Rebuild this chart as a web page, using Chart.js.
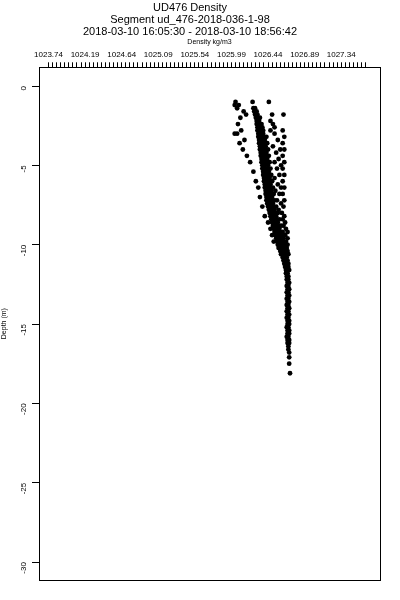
<!DOCTYPE html>
<html><head><meta charset="utf-8">
<script src="https://cdn.jsdelivr.net/npm/chart.js@4"></script>
<style>html,body{margin:0;padding:0;background:#fff}</style>
</head><body>
<canvas id="c" width="400" height="600"></canvas>
<script>
const titleLines = ['UD476 Density', 'Segment ud_476-2018-036-1-98', '2018-03-10 16:05:30 - 2018-03-10 18:56:42'];
const xAxisTitle = 'Density kg/m3';
const yAxisTitle = 'Depth (m)';
const xTickLabels = ['1023.74','1024.19','1024.64','1025.09','1025.54','1025.99','1026.44','1026.89','1027.34'];
const xMinorStep = 0.05;
const xMinorCount = 79;
const yTickValues = [0, -5, -10, -15, -20, -25, -30];

const depthLevels = [
 -1.0,-1.2,-1.4,-1.6,-1.8,-2.0,-2.2,-2.4,-2.6,-2.8,
 -3.0,-3.2,-3.4,-3.6,-3.8,-4.0,-4.2,-4.4,-4.6,-4.8,
 -5.0,-5.2,-5.4,-5.6,-5.8,-6.0,-6.2,-6.4,-6.6,-6.8,
 -7.0,-7.2,-7.4,-7.6,-7.8,-8.0,-8.2,-8.4,-8.6,-8.8,
 -9.0,-9.2,-9.4,-9.6,-9.8,-10.0,-10.2,-10.4,-10.6,-10.8,
 -11.0,-11.2,-11.4,-11.6,-11.8,-12.0,-12.2,-12.4,-12.6,-12.8,
 -13.0,-13.2,-13.4,-13.6,-13.8,-14.0,-14.2,-14.4,-14.6,-14.8,
 -15.0,-15.2,-15.4,-15.6,-15.8,-16.0,-16.2,-16.4,-16.6,-16.8,
 -17.1,-17.5,-18.1
];
const densityReadings = [
 [1026.25,1026.45,1026.04],[1026.03,1026.08],[1026.26,1026.28,1026.06],[1026.27,1026.30,1026.14],[1026.28,1026.31,1026.17,1026.49,1026.63],
 [1026.29,1026.32,1026.34,1026.10],[1026.30,1026.33,1026.47],[1026.30,1026.33,1026.36,1026.50,1026.07],[1026.31,1026.34,1026.37,1026.52],[1026.31,1026.34,1026.38,1026.11,1026.47,1026.62],
 [1026.32,1026.35,1026.38,1026.03,1026.06,1026.52],[1026.32,1026.36,1026.39,1026.42,1026.64],[1026.33,1026.36,1026.40,1026.15,1026.56],[1026.33,1026.37,1026.40,1026.43,1026.62,1026.09],[1026.34,1026.37,1026.41,1026.50],
 [1026.34,1026.38,1026.41,1026.44,1026.13,1026.59,1026.64],[1026.35,1026.38,1026.42,1026.54],[1026.35,1026.39,1026.42,1026.45,1026.18,1026.62],[1026.36,1026.39,1026.43,1026.57],[1026.36,1026.40,1026.43,1026.46,1026.22,1026.52,1026.64],
 [1026.37,1026.40,1026.44,1026.60],[1026.37,1026.41,1026.44,1026.47,1026.55,1026.62],[1026.38,1026.41,1026.45,1026.26],[1026.38,1026.42,1026.45,1026.48,1026.58,1026.64],[1026.39,1026.42,1026.46,1026.52],
 [1026.39,1026.43,1026.46,1026.49,1026.29,1026.62],[1026.40,1026.43,1026.47,1026.56],[1026.40,1026.44,1026.47,1026.50,1026.32,1026.60,1026.64],[1026.41,1026.44,1026.48,1026.53],[1026.41,1026.45,1026.48,1026.51,1026.58,1026.62],
 [1026.42,1026.45,1026.49,1026.34],[1026.42,1026.46,1026.49,1026.52,1026.55,1026.64],[1026.43,1026.47,1026.50,1026.60],[1026.44,1026.47,1026.51,1026.54,1026.37,1026.63],[1026.45,1026.48,1026.52,1026.57],
 [1026.46,1026.49,1026.53,1026.56,1026.61],[1026.47,1026.50,1026.54,1026.40,1026.64],[1026.48,1026.51,1026.55,1026.58,1026.62],[1026.49,1026.52,1026.56,1026.44,1026.65],[1026.50,1026.54,1026.57,1026.60,1026.63],
 [1026.51,1026.55,1026.58,1026.47,1026.66],[1026.52,1026.56,1026.59,1026.62,1026.68],[1026.53,1026.57,1026.60,1026.49,1026.65],[1026.54,1026.58,1026.61,1026.63,1026.68],[1026.55,1026.59,1026.62,1026.51,1026.66],
 [1026.56,1026.60,1026.63,1026.65,1026.68],[1026.57,1026.61,1026.64,1026.67],[1026.59,1026.62,1026.65,1026.68],[1026.60,1026.63,1026.66,1026.69],[1026.62,1026.65,1026.67],
 [1026.63,1026.66,1026.68],[1026.64,1026.67,1026.69],[1026.65,1026.67,1026.69],[1026.66,1026.68,1026.70],[1026.66,1026.68],
 [1026.67,1026.69],[1026.67,1026.69],[1026.68,1026.70],[1026.67,1026.69],[1026.68,1026.70],
 [1026.67,1026.69],[1026.68,1026.70],[1026.67,1026.69],[1026.68,1026.70],[1026.67,1026.69],
 [1026.68,1026.70],[1026.67,1026.69],[1026.68,1026.70],[1026.67,1026.69],[1026.68,1026.70],
 [1026.68,1026.70],[1026.67,1026.69],[1026.68,1026.70],[1026.68,1026.70],[1026.67,1026.69],
 [1026.68,1026.70],[1026.68,1026.70],[1026.69],[1026.69],[1026.70],
 [1026.70],[1026.70],[1026.71]
];

const points = [];
depthLevels.forEach((d, i) => densityReadings[i].forEach(v => points.push({x: v, y: d})));

const FONT = "'Liberation Sans', Arial, Helvetica, sans-serif";
const NARROW = "'Liberation Sans Narrow', 'Liberation Sans', Arial, sans-serif";

const boxPlugin = {
  id: 'box',
  afterDraw(chart) {
    const a = chart.chartArea, ctx = chart.ctx;
    ctx.save();
    ctx.strokeStyle = '#000';
    ctx.lineWidth = 1;
    ctx.strokeRect(Math.round(a.left) + 0.5, Math.round(a.top) + 0.5, Math.round(a.right - a.left), Math.round(a.bottom - a.top));
    ctx.restore();
  }
};

new Chart(document.getElementById('c'), {
  type: 'scatter',
  data: { datasets: [{ data: points, backgroundColor: '#000', borderWidth: 0, pointRadius: 2.4, pointHoverRadius: 2.4 }] },
  options: {
    responsive: false, animation: false, devicePixelRatio: 1,
    layout: { padding: { top: 0, left: 0, right: 20, bottom: 20 } },
    plugins: {
      legend: { display: false }, tooltip: { enabled: false },
      title: { display: true, text: titleLines, color: '#000', font: { family: FONT, size: 11, weight: 'normal', lineHeight: 1.1 }, padding: { top: 2, bottom: 0 } }
    },
    scales: {
      x: {
        type: 'linear', position: 'top', min: 1023.623, max: 1027.817,
        afterBuildTicks: s => { const t = []; for (let k = 0; k < xMinorCount; k++) t.push({ value: +(1023.74 + k * xMinorStep).toFixed(2) }); s.ticks = t; },
        afterFit: s => { s.height = 29; },
        ticks: { autoSkip: false, maxRotation: 0, minRotation: 0, padding: 3, color: '#000', font: { family: NARROW, size: 8 },
          callback: (v, i) => (i % 9 === 0 ? xTickLabels[i / 9] : '') },
        grid: { drawOnChartArea: false, drawTicks: true, tickLength: 5, color: '#000', lineWidth: 1 },
        border: { display: true, color: '#000' },
        title: { display: true, text: xAxisTitle, color: '#000', font: { family: NARROW, size: 7 }, padding: { top: 0, bottom: 0 } }
      },
      y: {
        type: 'linear', position: 'left', min: -31.13, max: 1.18,
        afterBuildTicks: s => { s.ticks = yTickValues.map(v => ({ value: v })); },
        afterFit: s => { s.width = 39; },
        ticks: { minRotation: 90, maxRotation: 90, padding: 8, color: '#000', font: { family: FONT, size: 8 } },
        grid: { drawOnChartArea: false, drawTicks: true, tickLength: 7, color: '#000', lineWidth: 1 },
        border: { display: true, color: '#000' },
        title: { display: true, text: yAxisTitle, color: '#000', font: { family: NARROW, size: 7 }, padding: { top: 0, bottom: 0 } }
      }
    }
  },
  plugins: [boxPlugin]
});
</script>
</body></html>
